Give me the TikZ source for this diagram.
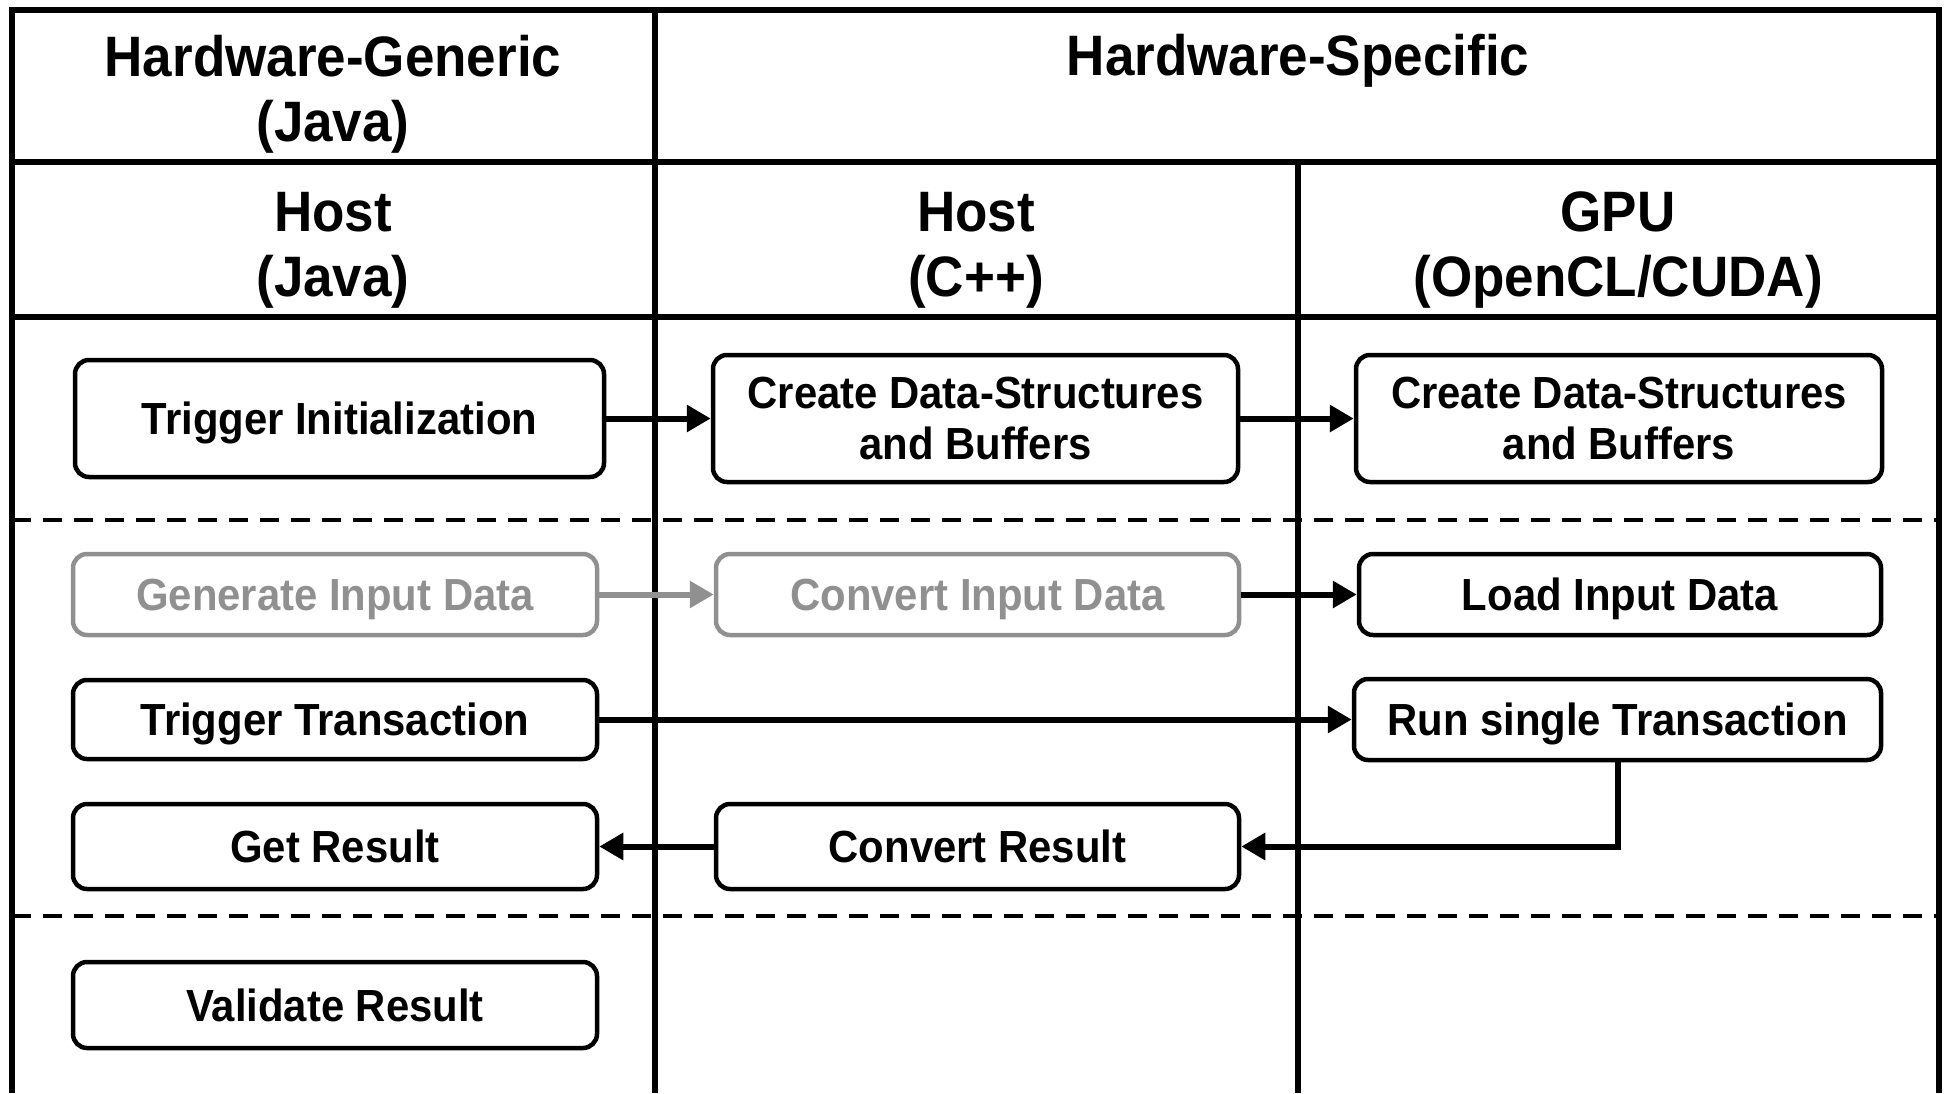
\documentclass[tikz,border=0pt]{standalone}
\usepackage{fontspec}
\setmainfont[FakeStretch=0.93]{Liberation Sans}
\usetikzlibrary{arrows.meta}
\definecolor{boxgray}{HTML}{909090}
\begin{document}
\begin{tikzpicture}[x=1pt,y=-1pt,
  grid/.style={line width=6pt},
  dashline/.style={line width=4pt, dash pattern=on 19pt off 12pt},
  hdr/.style={align=center, font=\fontsize{57}{65}\selectfont\bfseries, inner sep=0pt},
  boxbase/.style={draw, line width=4.5pt, rounded corners=14pt, inner sep=0pt,
    font=\fontsize{45}{51}\selectfont\bfseries},
  box/.style={boxbase, text height=32pt, text depth=0pt},
  box2/.style={boxbase, align=center},
  graybox/.style={box, draw=boxgray, text=boxgray},
  arr/.style={line width=6pt, -{Triangle[length=24pt,width=26pt]}},
  grayarr/.style={arr, draw=boxgray, color=boxgray}]
\useasboundingbox (0,0) rectangle (1949,1093);
% grid
\draw[grid] (12,1093) -- (12,10) -- (1939,10) -- (1939,1093);
\draw[grid] (655,10) -- (655,1093);
\draw[grid] (1298,162) -- (1298,1093);
\draw[grid] (12,162) -- (1939,162);
\draw[grid] (12,317) -- (1939,317);
\draw[dashline] (12,520) -- (1939,520);
\draw[dashline] (12,916) -- (1939,916);
% headers
\node[hdr] (hg) at (333,94) {Hardware-Generic\\(Java)};
\node[hdr] (hs) at (1298,61) {Hardware-Specific};
\node[hdr] (hj) at (333,250) {Host\\(Java)};
\node[hdr] (hc) at (976,250) {Host\\(C++)};
\node[hdr] (hgpu) at (1618,250) {GPU\\(OpenCL/CUDA)};
% boxes
\node[box, minimum width=529pt, minimum height=117pt] (ti) at (339.5,418.5) {Trigger Initialization};
\node[box2, minimum width=525pt, minimum height=127pt] (cdsh) at (975.5,418.5) {Create Data-Structures\\and Buffers};
\node[box2, minimum width=526pt, minimum height=127pt] (cdsg) at (1619,418.5) {Create Data-Structures\\and Buffers};
\node[graybox, minimum width=524pt, minimum height=81pt] (gen) at (335,594.5) {Generate Input Data};
\node[graybox, minimum width=523pt, minimum height=81pt] (cin) at (977.5,594.5) {Convert Input Data};
\node[box, minimum width=522pt, minimum height=81pt] (load) at (1620,594.5) {Load Input Data};
\node[box, minimum width=524pt, minimum height=79pt] (tt) at (335,719.5) {Trigger Transaction};
\node[box, minimum width=527pt, minimum height=81pt] (run) at (1617.5,719.5) {Run single Transaction};
\node[box, minimum width=524pt, minimum height=85pt] (gr) at (335,846.5) {Get Result};
\node[box, minimum width=523pt, minimum height=85pt] (cr) at (977.5,846.5) {Convert Result};
\node[box, minimum width=524pt, minimum height=86pt] (vr) at (335,1005) {Validate Result};
% arrows
\draw[arr] (ti) -- (cdsh);
\draw[arr] (cdsh) -- (cdsg);
\draw[grayarr] (gen) -- (cin);
\draw[arr] (cin) -- (load);
\draw[arr] (tt) -- (run);
\draw[arr] (run.south) |- (cr.east);
\draw[arr] (cr) -- (gr);
\end{tikzpicture}
\end{document}
